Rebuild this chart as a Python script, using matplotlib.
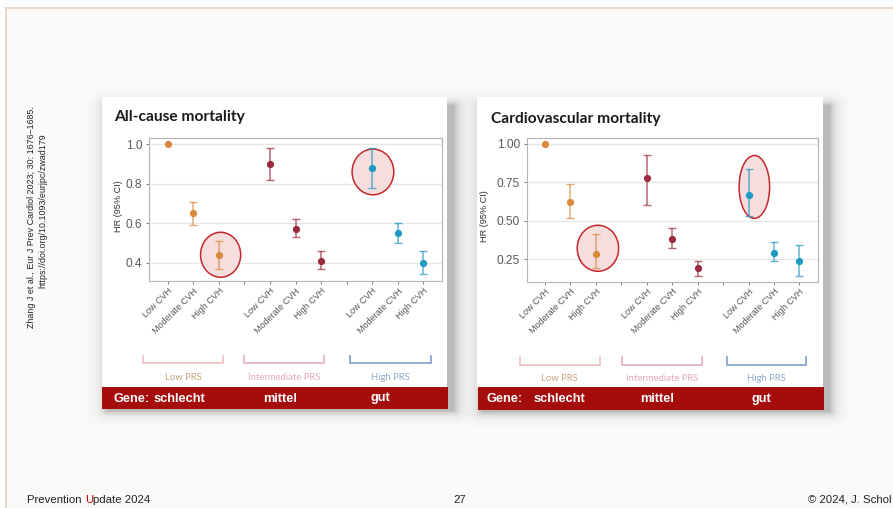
import numpy as np
import matplotlib
matplotlib.use("Agg")
import matplotlib.pyplot as plt
from matplotlib.patches import Rectangle, Ellipse

# ---------------- data ----------------
prs_groups = ["Low PRS", "Intermediate PRS", "High PRS"]
cvh_levels = ["Low CVH", "Moderate CVH", "High CVH"]
gene_labels = ["schlecht", "mittel", "gut"]

allcause_hr = [1.00, 0.65, 0.44, 0.90, 0.57, 0.41, 0.88, 0.55, 0.40]
allcause_lo = [1.00, 0.59, 0.37, 0.82, 0.53, 0.37, 0.78, 0.50, 0.34]
allcause_hi = [1.00, 0.71, 0.51, 0.98, 0.62, 0.46, 0.98, 0.60, 0.46]

cv_hr = [1.00, 0.62, 0.28, 0.78, 0.38, 0.19, 0.67, 0.29, 0.24]
cv_lo = [1.00, 0.52, 0.19, 0.60, 0.32, 0.14, 0.53, 0.24, 0.14]
cv_hi = [1.00, 0.74, 0.41, 0.93, 0.45, 0.24, 0.84, 0.36, 0.34]

allcause_yticks = [0.4, 0.6, 0.8, 1.0]
cv_yticks = [0.25, 0.50, 0.75, 1.00]

# highlighted (circled) points: index into the 9 estimates
allcause_circled = [2, 6]
cv_circled = [2, 6]

# ---------------- style ----------------
W, H = 893, 508
group_colors = ["#d98a3d", "#9c2b3e", "#1f9ac2"]
bracket_colors = ["#f0c4c4", "#e8b4c6", "#8ea6cc"]
bracket_text_colors = ["#c9a27a", "#e3a9bf", "#8ea6cc"]
RED = "#a50d0d"

fig = plt.figure(figsize=(W / 100, H / 100), dpi=100)

# background with slide colour and soft card shadows
yy, xx = np.mgrid[0:H, 0:W].astype(float)
img = np.ones((H, W, 3))
img[:] = np.array([252, 251, 249]) / 255.0
img[:8, :] = 1.0
img[:, :6] = 1.0


def shadow(x0, y0, x1, y1, off=(5, 1), sigma=6.5, amax=0.42):
    dx = np.maximum(np.maximum(x0 + off[0] - xx, xx - (x1 + off[0])), 0)
    dy = np.maximum(np.maximum(y0 + 8 - yy, yy - (y1 + off[1])), 0)
    d = np.hypot(dx, dy * 1.4)
    return amax * np.exp(-d / sigma)


a = 1 - (1 - shadow(102, 97, 448, 409)) * (1 - shadow(477, 97, 824, 410))
gray = 0.38
img = img * (1 - a[..., None]) + gray * a[..., None]

bg = fig.add_axes([0, 0, 1, 1], zorder=0)
bg.imshow(img, extent=(0, W, H, 0), aspect="auto", interpolation="bilinear")
bg.set_xlim(0, W)
bg.set_ylim(H, 0)
bg.axis("off")

# slide border lines
bg.plot([6, W], [8, 8], color="#e3d2c2", lw=1.2)
bg.plot([6, 6], [8, H], color="#e3d2c2", lw=1.2)

panels = [
    dict(card=(102, 97, 345, 290), bar=(102, 387, 346, 22),
         ax=(149.3, 138, 441.7, 281), ylim=(0.307, 1.032),
         title="All-cause mortality", title_xy=(114, 117),
         hr=allcause_hr, lo=allcause_lo, hi=allcause_hi,
         yticks=allcause_yticks, yfmt="{:.1f}", circled=allcause_circled,
         ell=[(0.07, 0.0, 1.57, 0.228), (0.03, -0.02, 1.63, 0.232)],
         brackets=[(143.3, 223.3), (244.3, 324), (350, 430.7)],
         br_y=(356, 362.5), br_text=[183.3, 284.3, 390], br_text_y=377.5,
         gene_x=113, gene_words=[153.5, 280, 380], gene_y=398.5,
         ylab_x=118.3, ylab_y=206.5),
    dict(card=(477, 97, 346, 290), bar=(478, 387, 346, 23),
         ax=(526.7, 137.7, 817.7, 281.7), ylim=(0.102, 1.041),
         title="Cardiovascular mortality", title_xy=(491, 118.5),
         hr=cv_hr, lo=cv_lo, hi=cv_hi,
         yticks=cv_yticks, yfmt="{:.2f}", circled=cv_circled,
         ell=[(0.08, 0.02, 1.63, 0.30), (0.23, 0.035, 1.2, 0.41)],
         brackets=[(520, 600), (621.7, 701.7), (726.7, 806)],
         br_y=(357, 364.5), br_text=[559.3, 662.3, 766.7], br_text_y=378.5,
         gene_x=486.7, gene_words=[533.3, 656.7, 761.7], gene_y=399,
         ylab_x=484.5, ylab_y=216),
]

positions = [g * 4 + c for g in range(len(prs_groups)) for c in range(len(cvh_levels))]
tick_pos = list(range(11))
tick_labels = []
for p in tick_pos:
    if p in positions:
        tick_labels.append(cvh_levels[positions.index(p) % 3])
    else:
        tick_labels.append("")

for P in panels:
    cx, cy, cw, ch = P["card"]
    bg.add_patch(Rectangle((cx, cy), cw, ch, facecolor="white", edgecolor="none", zorder=2))
    bx, by, bw, bh = P["bar"]
    bg.add_patch(Rectangle((bx, by), bw, bh, facecolor=RED, edgecolor="none", zorder=2))
    bg.text(P["title_xy"][0], P["title_xy"][1], P["title"], fontsize=11.2, fontweight="bold",
            family="Lato", color="#1a1a1a", ha="left", va="center", zorder=3)

    # brackets
    for k, (x0, x1) in enumerate(P["brackets"]):
        y0, y1 = P["br_y"]
        bg.plot([x0, x0, x1, x1], [y0, y1, y1, y0], color=bracket_colors[k], lw=1.3,
                zorder=3, solid_joinstyle="miter")
        bg.text(P["br_text"][k], P["br_text_y"], prs_groups[k], fontsize=6.8, family="Lato",
                color=bracket_text_colors[k], ha="center", va="center", zorder=3)

    # gene bar text
    gkw = dict(fontsize=9.2, fontweight="bold", family="Liberation Sans", color="white",
               va="center", zorder=3)
    bg.text(P["gene_x"], P["gene_y"], "Gene:", ha="left", **gkw)
    bg.text(P["gene_words"][0], P["gene_y"], gene_labels[0], ha="left", **gkw)
    for k in (1, 2):
        bg.text(P["gene_words"][k], P["gene_y"], gene_labels[k], ha="center", **gkw)

    # data axes
    x0, y0, x1, y1 = P["ax"]
    ax = fig.add_axes([x0 / W, 1 - y1 / H, (x1 - x0) / W, (y1 - y0) / H], zorder=2)
    ax.set_facecolor("white")
    ax.set_xlim(-0.72, 10.72)
    ax.set_ylim(*P["ylim"])
    for yt in P["yticks"]:
        ax.axhline(yt, color="#e6e6e6", lw=0.9, zorder=0)
    for s in ax.spines.values():
        s.set_color("#b5b5b5")
        s.set_linewidth(0.8)

    hr = np.array(P["hr"])
    lo = np.array(P["lo"])
    hi = np.array(P["hi"])

    # highlight ellipses
    for j, idx in enumerate(P["circled"]):
        dxo, dyo, ew, eh = P["ell"][j]
        yc = (lo[idx] + hi[idx]) / 2
        e = Ellipse((positions[idx] + dxo, yc + dyo), ew, eh, facecolor="#f6dede",
                    edgecolor="#c4282e", lw=1.1, zorder=1)
        ax.add_patch(e)

    for i, p in enumerate(positions):
        col = group_colors[i // 3]
        if hi[i] > lo[i]:
            ax.errorbar([p], [hr[i]], yerr=[[hr[i] - lo[i]], [hi[i] - hr[i]]], fmt="none",
                        ecolor=col, alpha=0.72, elinewidth=1.1, capsize=2.6, capthick=1.0, zorder=2)
        ax.plot([p], [hr[i]], "o", color=col, ms=4.2, zorder=3)

    ax.set_yticks(P["yticks"])
    ax.set_yticklabels([P["yfmt"].format(v) for v in P["yticks"]])
    ax.set_xticks(tick_pos)
    ax.set_xticklabels(tick_labels, rotation=45, ha="right", va="top",
                       rotation_mode="anchor")
    ax.tick_params(axis="y", labelsize=8.6, labelcolor="#5a5a5a", colors="#6a6a6a",
                   length=2.5, width=0.6, pad=2.5)
    ax.tick_params(axis="x", labelsize=6.5, labelcolor="#555555", colors="#6a6a6a",
                   length=2.5, width=0.6, pad=1.5)
    for lab in ax.get_xticklabels() + ax.get_yticklabels():
        lab.set_family("Liberation Sans")
    bg.text(P["ylab_x"], P["ylab_y"], "HR (95% CI)", rotation=90, fontsize=6.6,
            family="Liberation Sans", color="#333333", ha="center", va="center", zorder=3)

# citation (rotated)
bg.text(31.5, 217, "Zhang J et al., Eur J Prev Cardiol 2023; 30: 1676\u20131685.", rotation=90,
        fontsize=6.4, family="Liberation Sans", color="#222222", ha="center", va="center")
bg.text(43.3, 211, "https://doi.org/10.1093/eurjpc/zwad179", rotation=90,
        fontsize=6.4, family="Liberation Sans", color="#222222", ha="center", va="center")

# footer
FS = 8.2
ft = bg.text(27, 500, "Prevention ", fontsize=FS, family="Liberation Sans",
             color="#222222", ha="left", va="center")
fig.canvas.draw()
r = fig.canvas.get_renderer()
ext = ft.get_window_extent(r)
xu = 27 + ext.width
tu = bg.text(xu, 500, "U", fontsize=FS, family="Liberation Sans", color="#c00000",
             ha="left", va="center")
ext2 = tu.get_window_extent(r)
bg.text(xu + ext2.width, 500, "pdate 2024", fontsize=FS, family="Liberation Sans",
        color="#222222", ha="left", va="center")
bg.text(460, 500, "27", fontsize=FS, family="Liberation Sans", color="#222222",
        ha="center", va="center")
bg.text(891, 500, "\u00a9 2024, J. Schol", fontsize=FS, family="Liberation Sans",
        color="#222222", ha="right", va="center")

fig.savefig("out.png", dpi=100)
